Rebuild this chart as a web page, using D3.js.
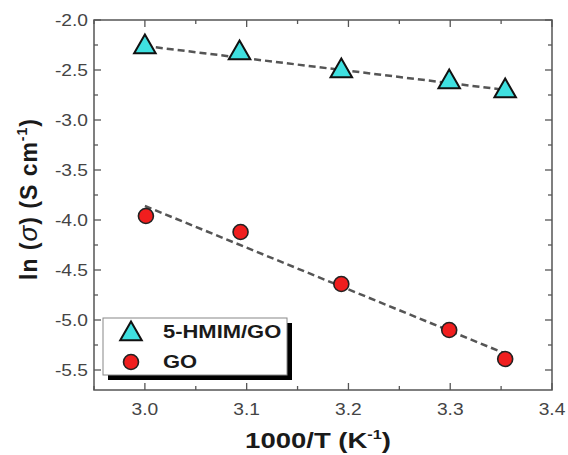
<!DOCTYPE html>
<html>
<head>
<meta charset="utf-8">
<script src="https://cdn.jsdelivr.net/npm/d3@7"></script>
<style>
  body { margin: 0; background: #fff; }
  svg { display: block; font-family: "Liberation Sans", Arial, sans-serif; }
</style>
</head>
<body>
<svg width="568" height="455"></svg>
<script>
// Data
const xHmim = [3.0, 3.093, 3.193, 3.299, 3.354];
const yHmim = [-2.25, -2.31, -2.49, -2.60, -2.69];
const xGO = [3.001, 3.094, 3.193, 3.299, 3.354];
const yGO = [-3.96, -4.12, -4.64, -5.10, -5.39];

// fitted lines (end points)
const fitHmimX = [3.0, 3.355];
const fitHmimY = [-2.26, -2.70];
const fitGOX = [3.0, 3.355];
const fitGOY = [-3.86, -5.34];

const xTicks = [3.0, 3.1, 3.2, 3.3, 3.4];
const yTicks = [-2.0, -2.5, -3.0, -3.5, -4.0, -4.5, -5.0, -5.5];
const legendNames = ["5-HMIM/GO", "GO"];

const svg = d3.select("svg");
const pL = 94, pR = 552, pT = 20, pB = 390;
const sx = 1.2; // the original text is a little wide

const x = d3.scaleLinear().domain([2.95, 3.4]).range([pL, pR]);
const y = d3.scaleLinear().domain([-5.7, -2.0]).range([pB, pT]);

const xMinor = d3.range(2.95, 3.401, 0.05);
const yMinor = d3.range(-5.75, -1.99, 0.25).filter(v => v >= -5.7);

// frame
svg.append("rect")
    .attr("x", pL).attr("y", pT)
    .attr("width", pR - pL).attr("height", pB - pT)
    .attr("fill", "none").attr("stroke", "#555").attr("stroke-width", 1.5);

// ticks, all pointing in, on all four sides
const tickG = svg.append("g").attr("stroke", "#555").attr("stroke-width", 1.3);
xMinor.forEach(v => {
    const major = xTicks.some(t => Math.abs(t - v) < 1e-6);
    const len = major ? 7 : 4;
    tickG.append("line").attr("x1", x(v)).attr("x2", x(v)).attr("y1", pB).attr("y2", pB - len);
    tickG.append("line").attr("x1", x(v)).attr("x2", x(v)).attr("y1", pT).attr("y2", pT + len);
});
yMinor.forEach(v => {
    const major = yTicks.some(t => Math.abs(t - v) < 1e-6);
    const len = major ? 7 : 4;
    tickG.append("line").attr("x1", pL).attr("x2", pL + len).attr("y1", y(v)).attr("y2", y(v));
    tickG.append("line").attr("x1", pR).attr("x2", pR - len).attr("y1", y(v)).attr("y2", y(v));
});

// tick labels
svg.append("g").selectAll("text")
  .data(xTicks)
  .join("text")
    .attr("transform", d => `translate(${x(d)},${pB + 25}) scale(${sx},1)`)
    .attr("text-anchor", "middle")
    .attr("font-size", 16)
    .attr("fill", "#444")
    .text(d => d3.format(".1f")(d));

svg.append("g").selectAll("text")
  .data(yTicks)
  .join("text")
    .attr("transform", d => `translate(${pL - 6},${y(d) + 6}) scale(${sx},1)`)
    .attr("text-anchor", "end")
    .attr("font-size", 16)
    .attr("fill", "#444")
    .text(d => d3.format(".1f")(d).replace("−", "-"));

// axis titles
const xt = svg.append("text")
    .attr("transform", `translate(318,448) scale(1.25,1)`)
    .attr("text-anchor", "middle")
    .attr("font-size", 22)
    .attr("font-weight", "bold")
    .attr("fill", "#1a1a1a");
xt.append("tspan").text("1000/T (K");
xt.append("tspan").attr("font-size", 13).attr("dy", -9).text("-1");
xt.append("tspan").attr("dy", 9).text(")");

const yt = svg.append("text")
    .attr("transform", `translate(37,199) rotate(-90)`)
    .attr("text-anchor", "middle")
    .attr("font-size", 23)
    .attr("font-weight", "bold")
    .attr("letter-spacing", 1)
    .attr("fill", "#1a1a1a");
yt.append("tspan").text("ln (");
yt.append("tspan").attr("font-style", "italic").attr("font-weight", "normal").attr("font-size", 26).text("σ");
yt.append("tspan").text(") (S cm");
yt.append("tspan").attr("font-size", 14).attr("dy", -10).text("-1");
yt.append("tspan").attr("dy", 10).text(")");

// fit lines
const line = d3.line().x(d => x(d[0])).y(d => y(d[1]));
[[fitHmimX, fitHmimY], [fitGOX, fitGOY]].forEach(([fx, fy]) => {
    svg.append("path")
        .attr("d", line(d3.zip(fx, fy)))
        .attr("fill", "none")
        .attr("stroke", "#555")
        .attr("stroke-width", 2.5)
        .attr("stroke-dasharray", "7,4");
});

// markers
const tri = d3.symbol().type(d3.symbolTriangle).size(200);
svg.append("g").selectAll("path")
  .data(d3.zip(xHmim, yHmim))
  .join("path")
    .attr("d", tri)
    .attr("transform", d => `translate(${x(d[0])},${y(d[1]) + 2})`)
    .attr("fill", "#3fe0e0")
    .attr("stroke", "#111")
    .attr("stroke-width", 2);

svg.append("g").selectAll("circle")
  .data(d3.zip(xGO, yGO))
  .join("circle")
    .attr("cx", d => x(d[0]))
    .attr("cy", d => y(d[1]))
    .attr("r", 7.5)
    .attr("fill", "#f01e1e")
    .attr("stroke", "#222")
    .attr("stroke-width", 1.6);

// legend with drop shadow
const lg = svg.append("g");
lg.append("rect").attr("x", 108).attr("y", 323).attr("width", 184).attr("height", 57).attr("fill", "#000");
lg.append("rect").attr("x", 103).attr("y", 318).attr("width", 184).attr("height", 57)
    .attr("fill", "#fff").attr("stroke", "#888").attr("stroke-width", 1);
lg.append("path").attr("d", tri).attr("transform", "translate(131,334)")
    .attr("fill", "#3fe0e0").attr("stroke", "#111").attr("stroke-width", 2);
lg.append("circle").attr("cx", 131).attr("cy", 362).attr("r", 7.5)
    .attr("fill", "#f01e1e").attr("stroke", "#222").attr("stroke-width", 1.6);
lg.selectAll("text.leg")
  .data(legendNames)
  .join("text")
    .attr("class", "leg")
    .attr("transform", (d, i) => `translate(163,${338 + i * 30}) scale(1.22,1)`)
    .attr("font-size", 18)
    .attr("font-weight", "bold")
    .attr("fill", "#1a1a1a")
    .text(d => d);
</script>
</body>
</html>
